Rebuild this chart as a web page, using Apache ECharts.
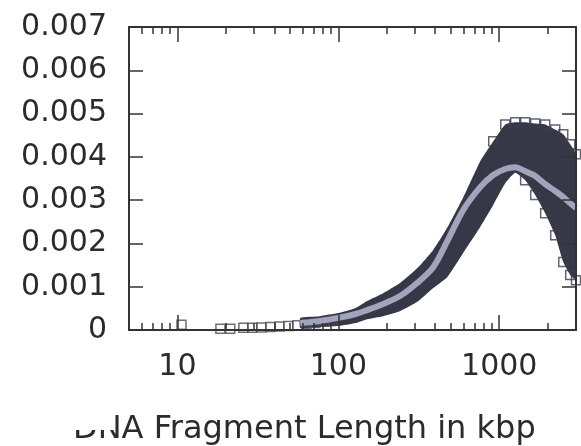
<!DOCTYPE html>
<html>
<head>
<meta charset="utf-8">
<script src="https://cdn.jsdelivr.net/npm/echarts@6/dist/echarts.min.js"></script>
<style>html,body{margin:0;padding:0;background:#fff}#c{width:581px;height:446px}</style>
</head>
<body>
<div id="c"></div>
<script>
// Tick values
const majorTicks = [10, 100, 1000];
const minorTicks = [6, 7, 8, 9, 20, 30, 40, 50, 60, 70, 80, 90, 200, 300, 400, 500, 600, 700, 800, 900, 2000];
const yTicks = [0, 0.001, 0.002, 0.003, 0.004, 0.005, 0.006, 0.007];

// Band of measured distributions (fragment length in kbp)
const xs    = [58, 77, 100, 128, 151, 190, 243, 310, 389, 475, 597, 762, 918, 1090, 1257, 1449, 1673, 1930, 2228, 2500, 2762, 3000];
const upper = [0.00028,0.00032,0.00039,0.00051,0.00067,0.00085,0.00109,0.00143,0.00185,0.00236,0.00306,0.00390,0.00436,0.00475,0.00480,0.00480,0.00477,0.00475,0.00463,0.00452,0.00429,0.00406];
const lower = [0.00005,0.00007,0.00009,0.00016,0.00025,0.00032,0.00044,0.00065,0.00097,0.00122,0.00178,0.00238,0.00289,0.00339,0.00363,0.00346,0.00312,0.00270,0.00219,0.00157,0.00127,0.00115];
// Light (fit) curve
const fit   = [0.00016,0.00021,0.00028,0.00037,0.00046,0.00060,0.00079,0.00109,0.00145,0.00205,0.00277,0.00330,0.00358,0.00372,0.00376,0.00367,0.00356,0.00337,0.00321,0.00307,0.00293,0.00282];
// Individual squares at short lengths
const lowX = [10.6, 18.5, 21.3, 25.7, 29.2, 33.2, 37.8, 43.0, 48.9, 55.6, 63.3, 72.0, 81.9, 93.1];
const lowY = [0.00012, 0.00003, 0.00003, 0.00005, 0.00005, 0.00006, 0.00007, 0.00008, 0.00009, 0.00011, 0.00013, 0.00016, 0.00019, 0.00023];

const FONT = 'DejaVu Sans';
const AX = '#333';
const TXT = '#2b2b2b';

const chart = echarts.init(document.getElementById('c'), null, {renderer: 'canvas'});

function xAxisDef(pos, ticks, len, withLabels, withLine) {
  return {
    type: 'log', logBase: 10, min: 5, max: 3000, gridIndex: 0, position: pos, z: 10,
    splitLine: {show: false},
    axisLine: {show: withLine, onZero: false, lineStyle: {color: AX, width: 2}},
    axisTick: {show: true, inside: true, length: len, customValues: ticks, lineStyle: {color: AX, width: 1.5}},
    axisLabel: withLabels ? {
      show: true, customValues: ticks, formatter: v => String(Math.round(v)),
      fontFamily: FONT, fontSize: 30, color: TXT, margin: 22
    } : {show: false},
    minorTick: {show: false}
  };
}
function yAxisDef(pos, withLabels) {
  return {
    type: 'value', min: 0, max: 0.007, interval: 0.001, position: pos, gridIndex: 0, z: 10,
    splitLine: {show: false},
    axisLine: {show: true, onZero: false, lineStyle: {color: AX, width: 2}},
    axisTick: {show: true, inside: true, length: 14, lineStyle: {color: AX, width: 1.5}},
    axisLabel: withLabels ? {
      show: true, formatter: v => (v === 0 ? '0' : v.toFixed(3)),
      fontFamily: FONT, fontSize: 30, color: TXT, margin: 22
    } : {show: false}
  };
}

chart.setOption({
  animation: false,
  backgroundColor: '#fff',
  title: {
    text: 'DNA Fragment Length in kbp', left: 68, top: 409,
    textStyle: {fontFamily: FONT, fontSize: 32, fontWeight: 'normal', color: TXT}
  },
  graphic: [{
    type: 'rect', z: 100, shape: {x: 60, y: 401, width: 54, height: 29},
    style: {fill: '#fff'}, silent: true
  }],
  grid: {left: 129, right: 5, top: 27, bottom: 116},
  xAxis: [
    xAxisDef('bottom', majorTicks, 15, true, true),
    xAxisDef('top', majorTicks, 15, false, true),
    xAxisDef('bottom', minorTicks, 7, false, false),
    xAxisDef('top', minorTicks, 7, false, false)
  ],
  yAxis: [yAxisDef('left', true), yAxisDef('right', false)],
  series: [
    {
      type: 'custom', coordinateSystem: 'cartesian2d', xAxisIndex: 0, yAxisIndex: 0,
      silent: true, clip: true, z: 2,
      data: [[xs[0], lower[0]]],
      renderItem: function (params, api) {
        const pts = [];
        for (let i = 0; i < xs.length; i++) pts.push(api.coord([xs[i], upper[i]]));
        for (let i = xs.length - 1; i >= 0; i--) pts.push(api.coord([xs[i], lower[i]]));
        return {type: 'polygon', shape: {points: pts, smooth: 0.15}, style: {fill: '#363848'}};
      }
    },
    {
      type: 'scatter', xAxisIndex: 0, yAxisIndex: 0, z: 3, silent: true,
      symbol: 'rect', symbolSize: 9,
      data: lowX.map((x, i) => [x, lowY[i]]),
      itemStyle: {color: 'rgba(0,0,0,0)', borderColor: '#4a4a55', borderWidth: 1.5}
    },
    {
      type: 'scatter', xAxisIndex: 0, yAxisIndex: 0, z: 3, silent: true,
      symbol: 'rect', symbolSize: 9,
      data: xs.map((x, i) => [x, upper[i]]).slice(12),
      itemStyle: {color: 'rgba(0,0,0,0)', borderColor: '#3b3d4c', borderWidth: 1.5}
    },
    {
      type: 'scatter', xAxisIndex: 0, yAxisIndex: 0, z: 3, silent: true,
      symbol: 'rect', symbolSize: 9,
      data: xs.map((x, i) => [x, lower[i]]).slice(15),
      itemStyle: {color: 'rgba(0,0,0,0)', borderColor: '#3b3d4c', borderWidth: 1.5}
    },
    {
      type: 'line', xAxisIndex: 0, yAxisIndex: 0, z: 4, silent: true,
      showSymbol: false, smooth: 0.3,
      data: xs.map((x, i) => [x, fit[i]]),
      lineStyle: {color: '#a2a4bc', width: 6}
    }
  ]
});
</script>
</body>
</html>
